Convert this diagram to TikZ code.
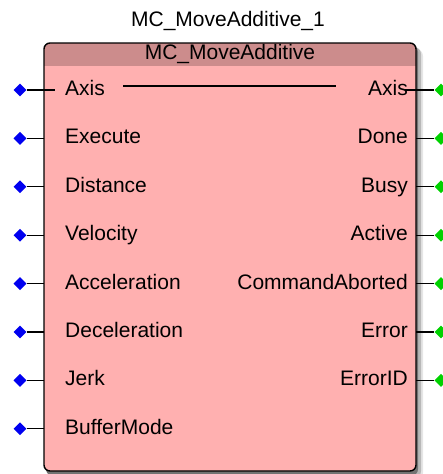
\documentclass[tikz,border=0pt]{standalone}
\usepackage{fontspec}
\setmainfont{Liberation Sans}
\usetikzlibrary{shapes.geometric}

\definecolor{fbbody}{RGB}{255,176,176}
\definecolor{fbhead}{RGB}{204,140,140}
\definecolor{inblue}{RGB}{0,0,240}
\definecolor{outgreen}{RGB}{0,210,0}

\tikzset{
  inpin/.style={diamond, fill=inblue, inner sep=0pt, minimum size=13pt},
  outpin/.style={diamond, fill=outgreen, inner sep=0pt, minimum size=13pt},
  pinlabel/.style={inner sep=0pt, text height=15pt, text depth=0pt},
  wire/.style={line width=1.2pt}
}

\begin{document}
\begin{tikzpicture}[x=1pt,y=-1pt,font=\fontsize{21}{24}\selectfont]
\useasboundingbox (0,0) rectangle (443,474);
% drop shadow of the block
\fill[black!10, rounded corners=7pt] (50,49) rectangle (423,480);
\fill[black!28, rounded corners=7pt] (48,47) rectangle (421,478);
\fill[black!55, rounded corners=7pt] (46,45) rectangle (418,476);
% block body and header band
\fill[fbbody, rounded corners=6pt] (44,43) rectangle (416,471);
\begin{scope}
  \clip[rounded corners=6pt] (44,43) rectangle (416,471);
  \fill[fbhead] (44,43) rectangle (416,66);
\end{scope}
\draw[line width=1.4pt, rounded corners=6pt] (44,43) rectangle (416,471);

\node (title) at (228,21) {MC\_MoveAdditive\_1};
\node (fbname) at (230,54) {MC\_MoveAdditive};

% inputs
\foreach \lbl [count=\i from 0] in {Axis,Execute,Distance,Velocity,Acceleration,Deceleration,Jerk,BufferMode} {
  \pgfmathsetmacro{\py}{90+48.4*\i}
  \node[inpin] (ip\i) at (20,\py) {};
  \coordinate (ie\i) at (44,\py);
  \draw[wire] (ip\i) -- (ie\i);
  \node[pinlabel, anchor=west] (il\i) at (65,\py-2) {\lbl};
}

% outputs
\foreach \lbl [count=\i from 0] in {Axis,Done,Busy,Active,CommandAborted,Error,ErrorID} {
  \pgfmathsetmacro{\py}{90+48.4*\i}
  \node[outpin] (op\i) at (441,\py) {};
  \coordinate (oe\i) at (416,\py);
  \draw[wire] (oe\i) -- (op\i);
  \node[pinlabel, anchor=east] (ol\i) at (408,\py-2) {\lbl};
}

% axis passes through the block
\coordinate (iax) at (55,90);
\coordinate (oax) at (405,90);
\draw[wire] (ie0) -- (iax);
\draw[wire] (oax) -- (oe0);
\draw[wire] ([xshift=18pt,yshift=2pt]il0.east) -- ([xshift=-32pt,yshift=2pt]ol0.west);
\end{tikzpicture}
\end{document}
